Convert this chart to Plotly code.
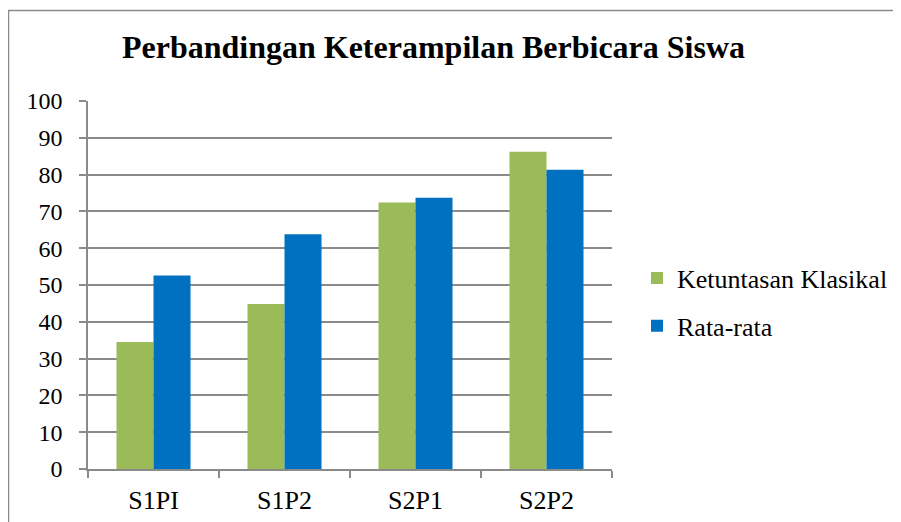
import plotly.graph_objects as go

categories = ["S1PI", "S1P2", "S2P1", "S2P2"]
ketuntasan = [34.48, 44.83, 72.41, 86.21]
rata_rata = [52.6, 63.8, 73.7, 81.3]
series_names = ["Ketuntasan Klasikal", "Rata-rata"]
y_ticks = list(range(0, 101, 10))
title_text = "Perbandingan Keterampilan Berbicara Siswa"

FONT = "Liberation Serif, Times New Roman, serif"
OFF = 8  # default page body margin
W, H = 901 - OFF, 522 - OFF
L = 88 - OFF
R = W - (612 - OFF)
T = 101 - OFF
B = H - (469 - OFF)
pw, ph = W - L - R, H - T - B

def px_x(x):
    return (x - OFF - L) / pw

def px_y(y):
    return (H - B - (y - OFF)) / ph

fig = go.Figure()
fig.add_trace(go.Bar(x=categories, y=ketuntasan, name=series_names[0],
                     marker=dict(color="#9BBB59", line=dict(width=0)),
                     legendgroup="a"))
fig.add_trace(go.Bar(x=categories, y=rata_rata, name=series_names[1],
                     marker=dict(color="#0070C0", line=dict(width=0)),
                     legendgroup="b"))

fig.update_layout(
    width=W, height=H,
    margin=dict(l=L, r=R, t=T, b=B, autoexpand=False),
    paper_bgcolor="white", plot_bgcolor="white",
    font=dict(family=FONT, color="black", size=24),
    barmode="group", bargap=0.435, bargroupgap=0,
    title=dict(text="<b>" + title_text + "</b>", x=(433.5 - OFF) / W, xref="container",
               xanchor="center", y=1 - (47 - OFF) / H, yref="container", yanchor="middle",
               font=dict(family=FONT, size=32, color="black")),
    legend=dict(x=px_x(637), xanchor="left", y=px_y(302), yanchor="middle",
                traceorder="grouped", tracegroupgap=11,
                font=dict(family=FONT, size=26, color="black"),
                bgcolor="rgba(0,0,0,0)"),
    showlegend=True,
)

fig.update_yaxes(range=[0, 100], tickvals=y_ticks, showgrid=True,
                 gridcolor="#8a8a8a", gridwidth=2,
                 showline=True, linecolor="#8a8a8a", linewidth=1.5,
                 ticks="outside", ticklen=7, tickcolor="#8a8a8a", tickwidth=1.5,
                 ticklabelstandoff=12, zeroline=False,
                 tickfont=dict(family=FONT, size=24, color="black"))
fig.update_xaxes(showgrid=False, showline=True, linecolor="#8a8a8a", linewidth=2,
                 ticks="outside", tickson="boundaries", ticklen=7,
                 tickcolor="#8a8a8a", tickwidth=1.5, ticklabelstandoff=7,
                 tickfont=dict(family=FONT, size=26, color="black"))

fig.add_shape(type="rect", xref="paper", yref="paper",
              x0=px_x(8.5), x1=px_x(897.5), y0=px_y(560), y1=px_y(10.5),
              line=dict(color="#8a8a8a", width=1.5), fillcolor="rgba(0,0,0,0)",
              layer="below")

fig.write_html("out.html")
